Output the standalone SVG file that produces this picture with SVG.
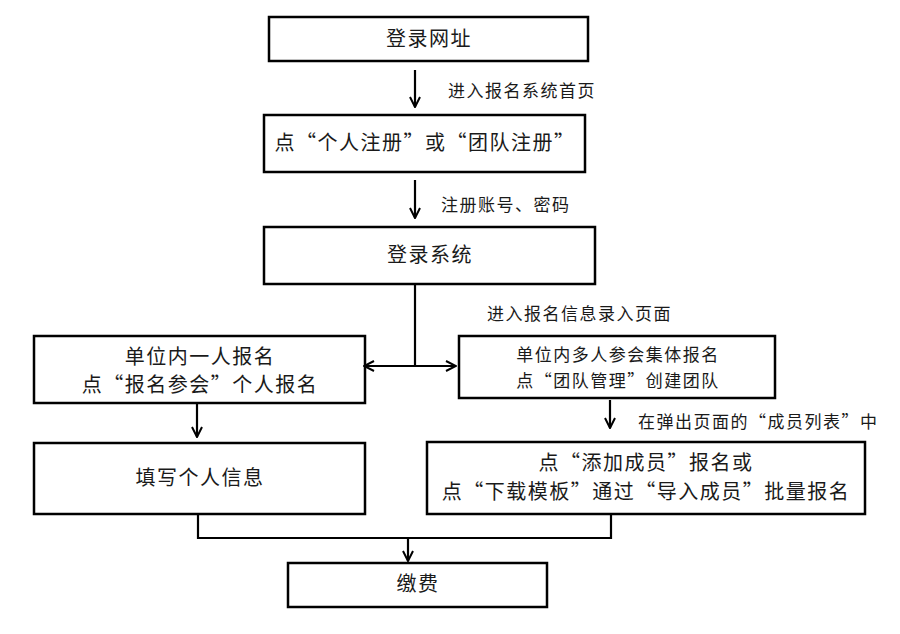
<svg xmlns="http://www.w3.org/2000/svg" width="900" height="634" viewBox="0 0 900 634">
<style>
.box{fill:#fff;stroke:#000;stroke-width:2.5}
.t{font-family:"Noto Sans CJK SC","Liberation Serif",serif;font-size:20px;fill:#1a1a1a;text-anchor:middle;letter-spacing:1.5px}
.s{font-family:"Noto Sans CJK SC","Liberation Serif",serif;font-size:17px;fill:#1a1a1a;letter-spacing:1.5px}
.c{fill:none;stroke:#000;stroke-width:2.2}
</style>
<defs>
<marker id="ah" viewBox="0 0 12 12" refX="11" refY="6" markerWidth="12" markerHeight="12" markerUnits="userSpaceOnUse" orient="auto">
<path d="M1,1 L11,6 L1,11" fill="none" stroke="#000" stroke-width="2"/>
</marker>
</defs>
<rect width="900" height="634" fill="#fff"/>
<g id="n1"><rect class="box" x="269" y="17" width="319" height="44"/><text class="t" x="429" y="46">登录网址</text></g>
<g id="n2"><rect class="box" x="264" y="115" width="321" height="57"/><text class="t" x="425" y="150">点“个人注册”或“团队注册”</text></g>
<g id="n3"><rect class="box" x="264" y="227" width="331" height="57"/><text class="t" x="430" y="262">登录系统</text></g>
<g id="n4"><rect class="box" x="34" y="336" width="331" height="67"/><text class="t" x="200" y="364">单位内一人报名</text><text class="t" x="200" y="392">点“报名参会”个人报名</text></g>
<g id="n5"><rect class="box" x="459" y="336" width="316" height="62"/><text class="t" style="font-size:17px" x="618" y="361">单位内多人参会集体报名</text><text class="t" style="font-size:17px" x="618" y="387">点“团队管理”创建团队</text></g>
<g id="n6"><rect class="box" x="34" y="443" width="331" height="71"/><text class="t" x="200" y="485">填写个人信息</text></g>
<g id="n7"><rect class="box" x="427" y="442" width="438" height="72"/><text class="t" x="646" y="470">点“添加成员”报名或</text><text class="t" x="646" y="499">点“下载模板”通过“导入成员”批量报名</text></g>
<g id="n8"><rect class="box" x="288" y="563" width="259" height="44"/><text class="t" x="418" y="591">缴费</text></g>
<g id="connectors">
<line class="c" x1="415" y1="70" x2="415" y2="107" marker-end="url(#ah)"/>
<line class="c" x1="415" y1="180" x2="415" y2="218" marker-end="url(#ah)"/>
<line class="c" x1="415" y1="284" x2="415" y2="366"/>
<line class="c" x1="415" y1="366" x2="364" y2="366" marker-end="url(#ah)"/>
<line class="c" x1="415" y1="366" x2="456" y2="366" marker-end="url(#ah)"/>
<line class="c" x1="197" y1="403" x2="197" y2="437" marker-end="url(#ah)"/>
<line class="c" x1="610" y1="400" x2="610" y2="428" marker-end="url(#ah)"/>
<polyline class="c" points="198,514 198,538 611,538 611,514"/>
<line class="c" x1="408" y1="538" x2="408" y2="561" marker-end="url(#ah)"/>
<text class="s" x="448" y="97">进入报名系统首页</text>
<text class="s" x="441" y="211">注册账号、密码</text>
<text class="s" x="487" y="320">进入报名信息录入页面</text>
<text class="s" x="638" y="428">在弹出页面的“成员列表”中</text>
</g>
</svg>
